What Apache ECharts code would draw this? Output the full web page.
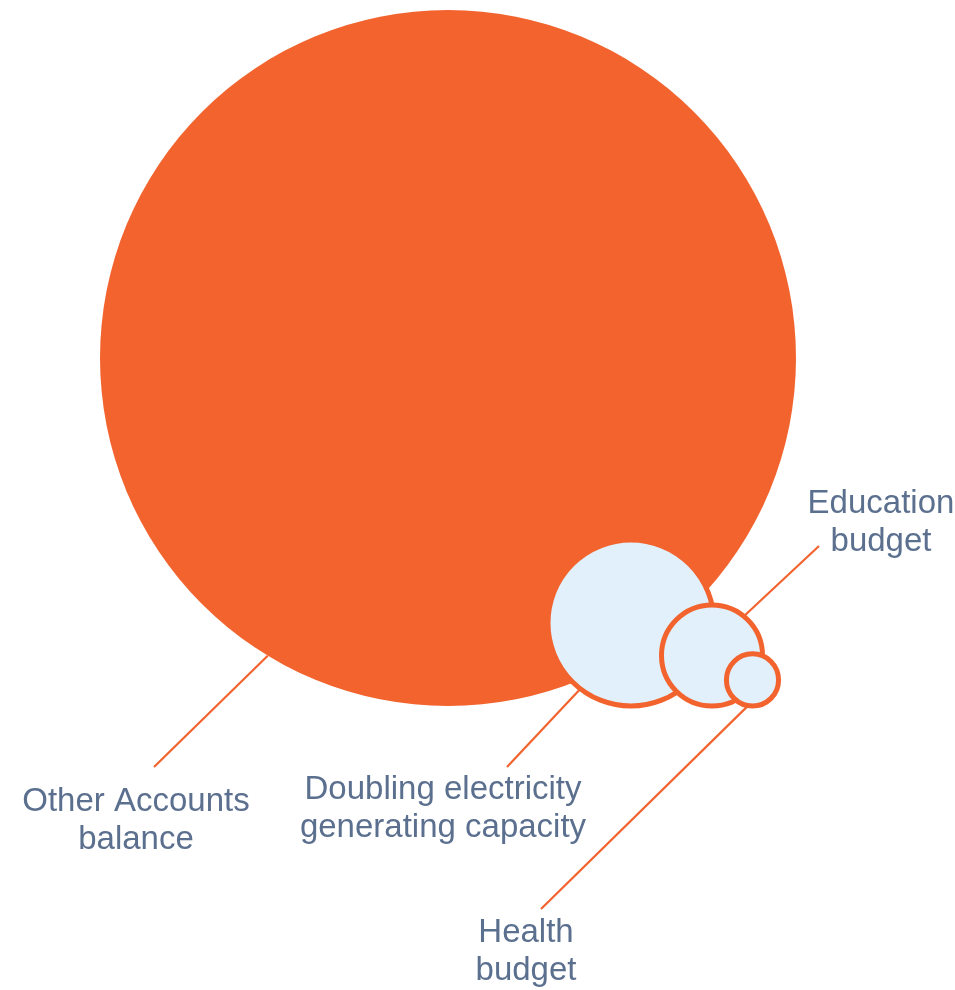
<!DOCTYPE html>
<html>
<head>
<meta charset="utf-8">
<script src="https://cdn.jsdelivr.net/npm/echarts@6/dist/echarts.min.js"></script>
<style>
  html, body { margin: 0; padding: 0; background: #ffffff; }
  #chart { width: 955px; height: 990px; }
</style>
</head>
<body>
<div id="chart"></div>
<script>
// Bubble categories and their sizes (bubble area is proportional to the value)
const categories = [
  'Other Accounts balance',
  'Doubling electricity generating capacity',
  'Education budget',
  'Health budget'
];
const labelLines = [
  ['Other Accounts', 'balance'],
  ['Doubling electricity', 'generating capacity'],
  ['Education', 'budget'],
  ['Health', 'budget']
];
const values = [1211, 68.9, 25.5, 6.8];

// Layout in axis units; a bubble's radius in these units is sqrt(value).
// All bubbles sit on a common baseline.
const centerX = [44.8, 63.1, 71.2, 75.25];
const baseline = 28.4;
const leaderAngle = [-121.2, -127.5, 50.9, -99.6];   // where the leader leaves the bubble (deg)
const leaderEnd = [[15.4, 22.3], [50.7, 22.3], [81.9, 44.4], [54.1, 8.1]];
const labelPos = [[13.6, 16.9], [44.3, 18.15], [88.1, 46.75], [52.6, 3.85]];

const ORANGE = '#F2632E';
const PALE = '#E1F0FB';
const TEXT = '#5B6F8E';

const chart = echarts.init(document.getElementById('chart'), null, { renderer: 'canvas' });

chart.setOption({
  animation: false,
  backgroundColor: '#ffffff',
  grid: { left: 0, right: 0, top: 0, bottom: 0 },
  xAxis: { type: 'value', min: 0, max: 95.5, show: false },
  yAxis: { type: 'value', min: 0, max: 99, show: false },
  series: [{
    type: 'custom',
    coordinateSystem: 'cartesian2d',
    data: values.map((v, i) => ({ name: categories[i], value: [i, v] })),
    renderItem: function (params, api) {
      const i = api.value(0);
      const r = Math.sqrt(api.value(1));
      const cx = centerX[i];
      const cy = baseline + r;
      const c = api.coord([cx, cy]);
      const rp = api.size([r, 0])[0];
      const a = leaderAngle[i] * Math.PI / 180;
      const s = api.coord([cx + r * Math.cos(a), cy + r * Math.sin(a)]);
      const e = api.coord(leaderEnd[i]);
      const t = api.coord(labelPos[i]);
      return {
        type: 'group',
        children: [
          {
            type: 'line',
            shape: { x1: s[0], y1: s[1], x2: e[0], y2: e[1] },
            style: { stroke: ORANGE, lineWidth: 2.2 }
          },
          {
            type: 'circle',
            shape: { cx: c[0], cy: c[1], r: rp },
            style: i === 0
              ? { fill: ORANGE }
              : { fill: PALE, stroke: ORANGE, lineWidth: 5 }
          },
          {
            type: 'text',
            x: t[0],
            y: t[1],
            style: {
              text: labelLines[i].join('\n'),
              fill: TEXT,
              fontFamily: '"Liberation Sans", Arial, sans-serif',
              fontSize: 33,
              lineHeight: 38,
              align: 'center',
              verticalAlign: 'middle'
            }
          }
        ]
      };
    }
  }]
});
</script>
</body>
</html>
